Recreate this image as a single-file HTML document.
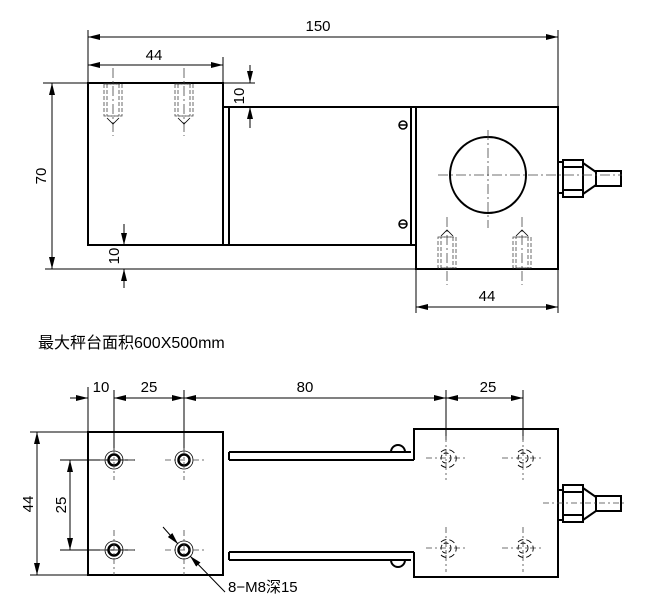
<!DOCTYPE html>
<html><head><meta charset="utf-8"><style>
html,body{margin:0;padding:0;background:#fff;}
svg{display:block;}
text{font-family:"Liberation Sans","Noto Sans CJK SC",sans-serif;fill:#000;}
</style></head><body>
<svg width="653" height="603" viewBox="0 0 653 603" xmlns="http://www.w3.org/2000/svg">
<defs>
<marker id="a" viewBox="0 0 12 6" refX="12" refY="3" markerWidth="12" markerHeight="6" orient="auto-start-reverse" markerUnits="userSpaceOnUse"><path d="M0,0L12,3L0,6z" fill="#000"/></marker>
</defs>
<g fill="none" stroke="#000">
<!-- TOP VIEW -->
<g stroke-width="1">
<line x1="88" y1="30" x2="88" y2="83"/>
<line x1="558" y1="30" x2="558" y2="107"/>
<line x1="88" y1="37" x2="558" y2="37" marker-start="url(#a)" marker-end="url(#a)"/>
<line x1="223" y1="57" x2="223" y2="107"/>
<line x1="88" y1="65" x2="223" y2="65" marker-start="url(#a)" marker-end="url(#a)"/>
<line x1="43" y1="83" x2="88" y2="83"/>
<line x1="45" y1="269" x2="416" y2="269"/>
<line x1="52" y1="83" x2="52" y2="269" marker-start="url(#a)" marker-end="url(#a)"/>
<line x1="223" y1="83" x2="255" y2="83"/>
<line x1="250" y1="65" x2="250" y2="83" marker-end="url(#a)"/>
<line x1="250" y1="128" x2="250" y2="107" marker-end="url(#a)"/>
<line x1="124" y1="224" x2="124" y2="245" marker-end="url(#a)"/>
<line x1="124" y1="288" x2="124" y2="269" marker-end="url(#a)"/>
<line x1="416" y1="269" x2="416" y2="313"/>
<line x1="558" y1="269" x2="558" y2="313"/>
<line x1="416" y1="307" x2="558" y2="307" marker-start="url(#a)" marker-end="url(#a)"/>
</g>
<g stroke-width="2">
<rect x="88" y="83" width="135" height="162"/>
<line x1="223" y1="107" x2="416" y2="107"/>
<line x1="229" y1="107" x2="229" y2="245"/>
<line x1="223" y1="245" x2="416" y2="245"/>
<line x1="411" y1="107" x2="411" y2="245"/>
<rect x="416" y="107" width="142" height="162"/>
<circle cx="488" cy="175" r="38"/>
<rect x="558" y="162" width="5" height="31"/>
<rect x="563" y="160" width="20" height="37"/>
<line x1="563" y1="167" x2="583" y2="167"/>
<line x1="563" y1="190" x2="583" y2="190"/>
<path d="M583,163 L596,172 L596,185 L583,194"/>
<rect x="596" y="171" width="25" height="15"/>
</g>
<g stroke-width="1.5">
<circle cx="403" cy="125" r="4"/><line x1="399" y1="125" x2="407" y2="125"/>
<circle cx="403" cy="224" r="4"/><line x1="399" y1="224" x2="407" y2="224"/>
</g>
<g stroke-width="0.8" stroke-dasharray="10,3,2,3" stroke="#444">
<line x1="438" y1="175" x2="622" y2="175"/>
<line x1="488" y1="130" x2="488" y2="228"/>
<line x1="113" y1="68" x2="113" y2="136"/>
<line x1="184" y1="68" x2="184" y2="136"/>
<line x1="447" y1="217" x2="447" y2="285"/>
<line x1="522" y1="217" x2="522" y2="285"/>
</g>
<g stroke-width="0.8" stroke-dasharray="4,2" stroke="#444">
<rect x="104" y="84" width="18" height="32"/><rect x="107" y="84" width="12" height="32"/>
<rect x="175" y="84" width="18" height="32"/><rect x="178" y="84" width="12" height="32"/>
<rect x="438" y="237" width="18" height="31"/><rect x="441" y="237" width="12" height="31"/>
<rect x="513" y="237" width="18" height="31"/><rect x="516" y="237" width="12" height="31"/>
</g>
<g stroke-width="0.8">
<path d="M107,118 L113,124 L119,118"/><path d="M178,118 L184,124 L190,118"/>
<path d="M441,236 L447,230 L453,236"/><path d="M516,236 L522,230 L528,236"/>
</g>

<!-- BOTTOM VIEW -->
<g stroke-width="1">
<line x1="88" y1="387" x2="88" y2="432"/>
<line x1="114" y1="390" x2="114" y2="450"/>
<line x1="184" y1="390" x2="184" y2="450"/>
<line x1="446" y1="390" x2="446" y2="440"/>
<line x1="523" y1="390" x2="523" y2="440"/>
<line x1="70" y1="398" x2="88" y2="398" marker-end="url(#a)"/>
<line x1="114" y1="398" x2="184" y2="398" marker-start="url(#a)" marker-end="url(#a)"/>
<line x1="184" y1="398" x2="446" y2="398" marker-start="url(#a)" marker-end="url(#a)"/>
<line x1="446" y1="398" x2="523" y2="398" marker-start="url(#a)" marker-end="url(#a)"/>
<line x1="30" y1="432" x2="88" y2="432"/>
<line x1="30" y1="575" x2="88" y2="575"/>
<line x1="37" y1="432" x2="37" y2="575" marker-start="url(#a)" marker-end="url(#a)"/>
<line x1="60" y1="460" x2="135" y2="460"/>
<line x1="60" y1="550" x2="135" y2="550"/>
<line x1="70" y1="460" x2="70" y2="550" marker-start="url(#a)" marker-end="url(#a)"/>
<line x1="163" y1="527" x2="178" y2="544" marker-end="url(#a)"/>
<line x1="225" y1="592" x2="190" y2="556" marker-end="url(#a)"/>
</g>
<g stroke-width="2">
<rect x="88" y="432" width="135" height="143"/>
<path d="M229,452 H411 M229,460 H414 M229,452 V460"/>
<path d="M229,552 H414 M229,560 H411 M229,552 V560"/>
<path d="M391,452 A7,7 0 0 1 405,452"/>
<path d="M391,560 A7,7 0 0 0 405,560"/>
<path d="M414,460 V429 H558 V577 H414 V552"/>
<rect x="558" y="490" width="5" height="30"/>
<rect x="563" y="485" width="20" height="37"/>
<line x1="563" y1="492" x2="583" y2="492"/>
<line x1="563" y1="515" x2="583" y2="515"/>
<path d="M583,488 L596,497 L596,511 L583,520"/>
<rect x="596" y="496" width="25" height="15"/>
</g>
<g stroke-width="2.5">
<circle cx="114" cy="460" r="5.5"/><circle cx="184" cy="460" r="5.5"/>
<circle cx="114" cy="550" r="5.5"/><circle cx="184" cy="550" r="5.5"/>
</g>
<g stroke-width="0.8">
<circle cx="114" cy="460" r="9"/><circle cx="184" cy="460" r="9"/>
<circle cx="114" cy="550" r="9"/><circle cx="184" cy="550" r="9"/>
</g>
<g stroke-width="0.8" stroke-dasharray="6,3,2,3" stroke="#444">
<line x1="100" y1="460" x2="135" y2="460"/><line x1="165" y1="460" x2="205" y2="460"/>
<line x1="100" y1="550" x2="135" y2="550"/><line x1="165" y1="550" x2="205" y2="550"/>
<line x1="114" y1="448" x2="114" y2="480"/><line x1="184" y1="448" x2="184" y2="480"/>
<line x1="114" y1="530" x2="114" y2="575"/><line x1="184" y1="530" x2="184" y2="575"/>
<line x1="426" y1="458" x2="468" y2="458"/><line x1="502" y1="458" x2="544" y2="458"/>
<line x1="426" y1="548" x2="468" y2="548"/><line x1="502" y1="548" x2="544" y2="548"/>
<line x1="446" y1="436" x2="446" y2="480"/><line x1="523" y1="436" x2="523" y2="480"/>
<line x1="446" y1="527" x2="446" y2="572"/><line x1="523" y1="527" x2="523" y2="572"/>
<line x1="543" y1="503" x2="626" y2="503"/>
</g>
<g stroke-width="0.9">
<circle cx="446" cy="458" r="5" stroke-dasharray="5,2"/><path d="M441,452 A9,9 0 1 1 441,465" stroke-dasharray="6,3"/>
<circle cx="523" cy="458" r="5" stroke-dasharray="5,2"/><path d="M518,452 A9,9 0 1 1 518,465" stroke-dasharray="6,3"/>
<circle cx="446" cy="548" r="5" stroke-dasharray="5,2"/><path d="M441,542 A9,9 0 1 1 441,555" stroke-dasharray="6,3"/>
<circle cx="523" cy="548" r="5" stroke-dasharray="5,2"/><path d="M518,542 A9,9 0 1 1 518,555" stroke-dasharray="6,3"/>
</g>
</g>
<g font-size="15">
<text x="318" y="31" text-anchor="middle">150</text>
<text x="154" y="60" text-anchor="middle">44</text>
<text x="487" y="301" text-anchor="middle">44</text>
<text transform="translate(244,96) rotate(-90)" text-anchor="middle">10</text>
<text transform="translate(46,176) rotate(-90)" text-anchor="middle">70</text>
<text transform="translate(119,256) rotate(-90)" text-anchor="middle">10</text>
<text x="38" y="348" font-size="16">最大秤台面积600X500mm</text>
<text x="101" y="392" text-anchor="middle">10</text>
<text x="149" y="392" text-anchor="middle">25</text>
<text x="305" y="392" text-anchor="middle">80</text>
<text x="488" y="392" text-anchor="middle">25</text>
<text transform="translate(33,504) rotate(-90)" text-anchor="middle">44</text>
<text transform="translate(66,505) rotate(-90)" text-anchor="middle">25</text>
<text x="228" y="592">8−M8深15</text>
</g>
</svg>
</body></html>
